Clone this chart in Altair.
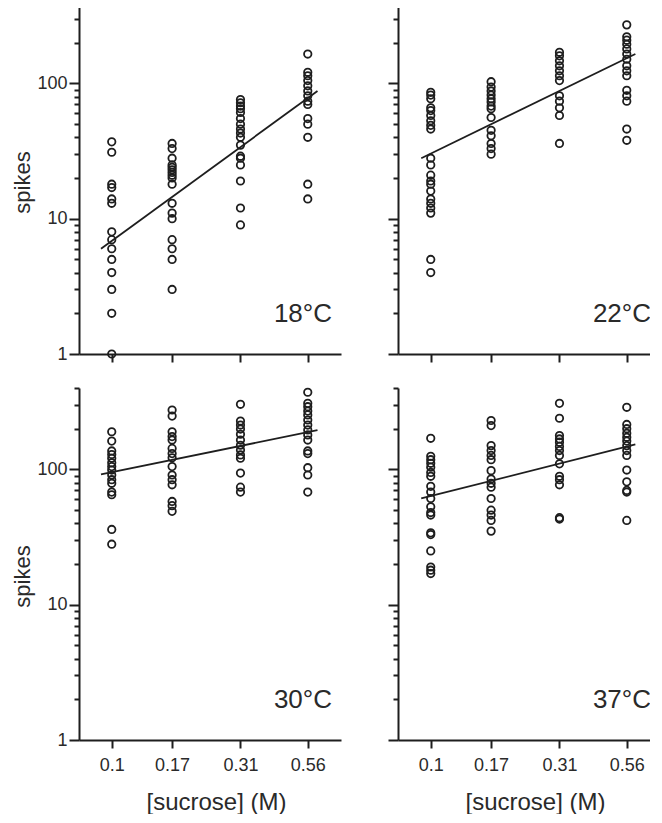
import altair as alt
import pandas as pd

# sucrose concentrations (M)
conc = [0.1, 0.17, 0.31, 0.56]
panel_labels = ["18°C", "22°C", "30°C", "37°C"]

# spikes per concentration, 18°C
t18_c010 = [37, 31, 18, 17, 14, 13, 8, 7, 6, 5, 4, 3, 2, 1]
t18_c017 = [36, 33, 28, 25, 24, 23, 22, 21, 20, 18, 13, 11, 10, 7, 6, 5, 3]
t18_c031 = [76, 72, 68, 65, 61, 55, 50, 46, 43, 40, 35, 29, 28, 25, 19, 12, 9]
t18_c056 = [165, 121, 114, 105, 96, 88, 81, 74, 70, 55, 50, 40, 18, 14]
# 22°C
t22_c010 = [86, 82, 77, 66, 63, 58, 53, 49, 46, 28, 25, 21, 19, 18, 16, 14, 13, 12, 11, 5, 4]
t22_c017 = [103, 94, 88, 82, 77, 73, 68, 65, 56, 45, 41, 36, 33, 30]
t22_c031 = [170, 160, 147, 135, 124, 114, 105, 81, 74, 66, 58, 36]
t22_c056 = [271, 221, 209, 195, 180, 165, 151, 135, 124, 114, 89, 81, 74, 46, 38]
# 30°C
t30_c010 = [190, 162, 137, 129, 121, 112, 105, 99, 91, 84, 79, 68, 65, 36, 28]
t30_c017 = [275, 248, 190, 175, 165, 143, 131, 122, 105, 91, 84, 77, 58, 54, 49]
t30_c031 = [303, 228, 213, 199, 182, 165, 151, 139, 128, 121, 94, 74, 68]
t30_c056 = [372, 308, 291, 270, 253, 232, 213, 196, 180, 165, 137, 131, 103, 91, 68]
# 37°C
t37_c010 = [170, 125, 118, 111, 104, 95, 89, 75, 68, 61, 53, 48, 46, 34, 33, 25, 19, 18, 17]
t37_c017 = [230, 211, 150, 138, 127, 118, 98, 85, 79, 74, 61, 50, 46, 42, 35]
t37_c031 = [308, 239, 178, 168, 159, 148, 138, 127, 110, 89, 84, 77, 44, 43]
t37_c056 = [288, 215, 200, 185, 173, 162, 150, 138, 127, 99, 81, 70, 68, 42]

# fitted line end points (x in M, y in spikes)
fit18_x = [0.091, 0.61]
fit18_y = [6.0, 88]
fit22_x = [0.092, 0.604]
fit22_y = [28, 165]
fit30_x = [0.091, 0.61]
fit30_y = [92, 195]
fit37_x = [0.092, 0.604]
fit37_y = [61, 153]

y_tick_values = [1, 2, 3, 4, 5, 6, 7, 8, 9, 10, 20, 30, 40, 50, 60, 70, 80, 90, 100, 200, 300, 400]

FONT = "Liberation Sans"
INK = "#1e1e1e"
TXT = "#2a2a2a"
W, H = 262, 352


def panel(columns, fx, fy, label, show_x, show_y, ytitle_y):
    pts = pd.DataFrame(
        [{"conc": c, "spikes": v} for c, vals in zip(conc, columns) for v in vals]
    )
    fit = pd.DataFrame({"conc": fx, "spikes": fy})
    lab = pd.DataFrame({"label": [label]})

    x_axis_kw = dict(
        values=conc,
        tickSize=8,
        tickWidth=2,
        tickColor=INK,
        domainColor=INK,
        domainWidth=2,
        grid=False,
        labels=show_x,
        labelFont=FONT,
        labelFontSize=18,
        labelColor=TXT,
        labelPadding=8,
        labelFlush=False,
        format=".2~f",
    )
    if show_x:
        x_axis_kw.update(
            title="[sucrose] (M)",
            titleFont=FONT,
            titleFontSize=24,
            titleFontWeight="normal",
            titleColor=TXT,
            titleX=137,
            titleY=69,
            titleBaseline="alphabetic",
        )
    else:
        x_axis_kw.update(title=None)

    y_axis_kw = dict(
        values=y_tick_values,
        tickSize={
            "condition": {
                "test": "datum.value == 1 || datum.value == 10 || datum.value == 100",
                "value": 10,
            },
            "value": 5,
        },
        tickWidth=2,
        tickColor=INK,
        domainColor=INK,
        domainWidth=2,
        grid=False,
        labels=show_y,
        labelFont=FONT,
        labelFontSize=18,
        labelColor=TXT,
        labelPadding=2,
        labelOverlap=False,
        labelExpr="datum.value == 1 ? '1' : datum.value == 10 ? '10' : datum.value == 100 ? '100' : ''",
    )
    if show_y:
        y_axis_kw.update(
            title="spikes",
            titleFont=FONT,
            titleFontSize=22,
            titleFontWeight="normal",
            titleColor=TXT,
            titleX=-57,
            titleY=ytitle_y,
            titleAngle=270,
            titleAlign="center",
            titleBaseline="middle",
        )
    else:
        y_axis_kw.update(title=None)

    xscale = alt.Scale(type="log", domain=[0.075, 0.75], nice=False)
    yscale = alt.Scale(type="log", domain=[1, 400], nice=False)

    points = alt.Chart(pts).mark_point(
        shape="circle", filled=False, size=55, strokeWidth=1.8, color=INK, opacity=1
    ).encode(
        x=alt.X("conc:Q", scale=xscale, axis=alt.Axis(**x_axis_kw)),
        y=alt.Y("spikes:Q", scale=yscale, axis=alt.Axis(**y_axis_kw)),
    )
    line = alt.Chart(fit).mark_line(color=INK, strokeWidth=1.8).encode(
        x=alt.X("conc:Q", scale=xscale),
        y=alt.Y("spikes:Q", scale=yscale),
    )
    text = alt.Chart(lab).mark_text(
        align="right", baseline="alphabetic", font=FONT, fontSize=26, color=TXT
    ).encode(x=alt.value(W - 9), y=alt.value(H - 32), text="label:N")

    return alt.layer(points, line, text).properties(width=W, height=H)


p18 = panel([t18_c010, t18_c017, t18_c031, t18_c056], fit18_x, fit18_y, panel_labels[0], False, True, 180)
p22 = panel([t22_c010, t22_c017, t22_c031, t22_c056], fit22_x, fit22_y, panel_labels[1], False, False, 180)
p30 = panel([t30_c010, t30_c017, t30_c031, t30_c056], fit30_x, fit30_y, panel_labels[2], True, True, 188)
p37 = panel([t37_c010, t37_c017, t37_c031, t37_c056], fit37_x, fit37_y, panel_labels[3], True, False, 188)

chart = (
    alt.concat(p18, p22, p30, p37, columns=2, spacing={"row": 34, "column": 57}, bounds="flush")
    .properties(padding={"left": 3, "top": -15, "right": -10.5, "bottom": 0}, background="white")
    .configure_view(stroke=None)
)

chart.save("out.html", embed_options={"renderer": "svg", "actions": False})
